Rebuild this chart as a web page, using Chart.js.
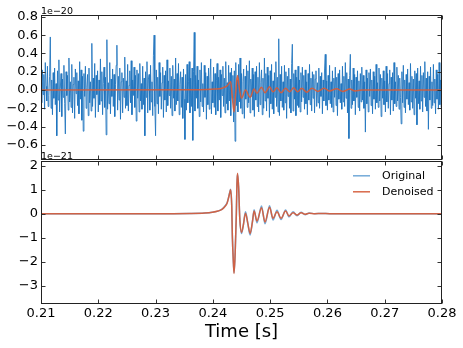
<!DOCTYPE html>
<html>
<head>
<meta charset="utf-8">
<script src="https://cdn.jsdelivr.net/npm/chart.js@4.4.0/dist/chart.umd.min.js"></script>
<style>
  html, body { margin: 0; padding: 0; background: #fff; }
  #wrap { position: relative; width: 463px; height: 348px; }
  #topBox { position: absolute; left: 0; top: 0; width: 463px; height: 170px; }
  #botBox { position: absolute; left: 0; top: 150px; width: 463px; height: 198px; }
</style>
</head>
<body>
<div id="wrap">
  <div id="topBox"><canvas id="topChart"></canvas></div>
  <div id="botBox"><canvas id="botChart"></canvas></div>
</div>
<script>
// x axis
const xTicks = [0.21, 0.22, 0.23, 0.24, 0.25, 0.26, 0.27, 0.28];
const xLabels = ['0.21', '0.22', '0.23', '0.24', '0.25', '0.26', '0.27', '0.28'];

// top panel, units of 1e-20
const topYTicks = [-0.6, -0.4, -0.2, 0.0, 0.2, 0.4, 0.6, 0.8];
const topYLabels = ['\u22120.6', '\u22120.4', '\u22120.2', '0.0', '0.2', '0.4', '0.6', '0.8'];

// bottom panel, units of 1e-21
const botYTicks = [-3, -2, -1, 0, 1, 2];
const botYLabels = ['\u22123', '\u22122', '\u22121', '0', '1', '2'];

// noisy strain (1e-22 units), one sample every 0.125 ms from 0.21 s
const noiseStart = 0.21;
const noiseStep = 0.000125;
const noise = [
  8, -14, 22, -5, 17, -21, 30, 4, -12, 26, -18, -6, 15, 58, -20, 11, -27, 19, -9, 24,
  -16, 7, -50, 21, -11, 33, -24, 2, 18, -29, 12, -8, 27, -15, -48, 20, -6, 16, -22, 35,
  -13, 9, -19, 28, -25, 6, 14, -31, 23, -4, 19, -17, 10, -26, 31, -10, 22, -33, 15, -45,
  18, -7, 26, -20, 3, 17, -28, 24, -14, 9, -23, 51, -18, 13, -9, 29, -30, 16, -5, 21,
  -24, 11, -16, 34, -12, 20, -27, 7, 25, -19, 14, -49, 55, -21, 8, -15, 30, -26, 12, -7,
  23, -18, 17, -29, 6, 27, 49, -22, 15, -11, 24, -32, 9, 19, -25, 13, -8, 36, -20, 10,
  -17, 28, -23, 5, 21, -14, 32, -27, 11, -6, 25, -19, 16, -34, 22, -9, 18, -24, 29, -12,
  7, -21, 26, -16, 13, -50, 20, -8, 31, -25, 12, 17, -22, 27, -13, 9, -28, 38, 60, -18,
  -50, 22, -15, 14, -26, 30, -7, 19, -21, 8, 25, -30, 16, -11, 21, -24, 33, -17, 10, -6,
  24, -20, 15, -28, 27, -9, 12, -23, 35, -16, 18, -12, 29, -27, 6, 20, -19, 14, -31, 23,
  -10, -54, 17, -22, 28, -14, 9, 31, -25, 13, -18, 24, -55, 20, 63, -23, 16, -9, 26, -20,
  11, -29, 22, -13, 30, -18, 7, -24, 27, -8, 19, -32, 15, -16, 24, -21, 12, 34, -26, 9,
  -14, 25, -19, 18, -27, 10, 29, -23, 14, -11, 22, -30, 17, -6, 26, -18, 13, -25, 31, -15,
  8, -22, 27, -12, 19, -28, 24, -9, 16, -35, 21, -56, 30, -17, 11, -24, 28, -13, 35, -20,
  18, -26, 9, 23, -31, 15, -10, 27, -19, 21, -14, 32, -25, 12, -7, 24, -22, 17, -29, 20,
  -11, 26, -18, 14, -24, 30, -16, 8, 22, -27, 13, -20, 35, -12, 18, -23, 25, -9, 16, -30,
  21, -15, 28, -21, 10, -26, 19, -8, 31, -18, 14, -24, 56, -28, 17, -12, 26, -19, 9, -22,
  27, -14, 20, -31, 15, -7, 24, -20, 12, -25, 29, 50, -23, 18, -10, 22, -28, 14, -17, 26,
  -19, 11, -24, 19, -13, 25, -8, 16, -21, 22, -15, 9, -27, 18, -11, 28, -16, 13, -23, 20,
  -9, 17, -25, 12, 21, -18, 8, -14, 24, -20, 15, -7, 19, -26, 11, -12, 23, 39, -17, 10,
  -22, 16, -11, 27, -15, 9, -19, 21, -24, 13, -8, 25, -17, 14, -28, 18, -10, 22, -14, 7,
  -21, 26, -13, 15, -18, 30, -9, 19, -25, 12, -53, 16, 39, -20, 11, -16, 24, -12, 17, -27,
  14, -8, 21, -19, 10, -23, 18, -13, 25, -11, 16, -20, 9, -46, 22, -15, 13, -24, 19, -7,
  23, -17, 11, -26, 20, -10, 15, -21, 28, -14, 8, -19, 24, -12, 17, -29, 13, -9, 21, -16,
  10, -24, 26, -13, 18, -20, 7, 22, -27, 14, -11, 19, -23, 30, -15, 9, -18, 25, -12, 16,
  -21, 13, -8, -37, 20, -14, 27, -19, 11, -25, 17, -10, 23, -16, 8, -22, 29, -13, 15, -20,
  12, -27, 21, -9, 18, -38, 24, -15, 10, -21, 26, -12, 16, -24, 19, -8, 31, -18, 13, -23,
  20, -43, 15, -11, 25, -20, 9, -17, 28, -14, 12, -26, 22, -10, 17, -21, 30, -16, 11, -19,
  8
];

// denoised trace in the top panel (1e-20)
const topDenT = [0.2100, 0.2377, 0.2404, 0.2416, 0.2425, 0.2431, 0.2434, 0.2437, 0.2440, 0.2443,
  0.2446, 0.2450, 0.2457, 0.2465, 0.2472, 0.2477, 0.2485, 0.2491, 0.2499, 0.2505,
  0.2512, 0.2519, 0.2527, 0.2534, 0.2541, 0.2548, 0.2555, 0.2564, 0.2573, 0.2583,
  0.2594, 0.2604, 0.2616, 0.2627, 0.2639, 0.2648, 0.2660, 0.2800];
const topDenV = [0, 0.002, 0.01, 0.02, 0.045, 0.09, -0.08, -0.24, -0.02, 0.16,
  0.03, -0.09, 0.0, -0.08, 0.01, -0.035, 0.03, -0.03, 0.035, -0.02,
  0.025, -0.03, 0.02, -0.02, 0.025, -0.02, 0.02, -0.025, 0.02, -0.015,
  0.02, -0.01, 0.015, -0.015, 0.01, -0.01, 0, 0];

// bottom panel (1e-21)
const chirpT = [0.2100, 0.2291, 0.2360, 0.2386, 0.2399, 0.2409, 0.2416, 0.2421, 0.2425, 0.2427,
  0.2429, 0.2431, 0.2433, 0.2434, 0.2436, 0.2437, 0.2439, 0.2441, 0.2442, 0.2443,
  0.2445, 0.2447, 0.2450, 0.2453, 0.2457, 0.2461, 0.2465, 0.2469, 0.2472, 0.2477,
  0.2485, 0.2491, 0.2499, 0.2505, 0.2512, 0.2519, 0.2527, 0.2533, 0.2540, 0.2547,
  0.2554, 0.2561, 0.2568, 0.2578, 0.2590, 0.2604, 0.2800];
const original = [0, 0, 0.01, 0.03, 0.06, 0.11, 0.19, 0.31, 0.47, 0.64,
  0.85, 1.02, 0.3, -0.9, -2.1, -2.45, -1.6, 0.0, 1.2, 1.65,
  1.1, -0.2, -0.82, -0.5, 0.08, -0.4, -0.88, -0.35, 0.17, -0.38,
  0.32, -0.42, 0.33, -0.26, 0.14, -0.24, 0.15, -0.13, 0.08, -0.08,
  0.06, -0.04, 0.03, 0, 0.01, 0, 0];
const denoised = [0, 0, 0.01, 0.03, 0.06, 0.11, 0.18, 0.30, 0.45, 0.62,
  0.82, 1.0, 0.3, -0.9, -2.1, -2.48, -1.6, 0.0, 1.2, 1.68,
  1.1, -0.2, -0.78, -0.5, 0.02, -0.4, -0.82, -0.35, 0.11, -0.30,
  0.25, -0.34, 0.27, -0.19, 0.08, -0.19, 0.11, -0.09, 0.04, -0.05,
  0.04, -0.02, 0.02, 0, 0.01, 0, 0];

const BLUE = 'rgba(30,115,190,0.86)';
const BLUE_SOFT = 'rgba(40,125,195,0.65)';
const ORANGE = 'rgba(214,92,58,0.92)';

Chart.defaults.font.family = "'DejaVu Sans', sans-serif";
Chart.defaults.color = '#000';

const pts = (xs, ys) => xs.map((x, i) => ({ x: x, y: ys[i] }));
const noisePts = noise.map((v, i) => ({ x: noiseStart + i * noiseStep, y: v / 100 }));

// box, inward ticks, offset text and legend, matplotlib-style
const framePlugin = {
  id: 'frame',
  afterDatasetsDraw(chart, args, opts) {
    const { ctx, chartArea: a, scales: { x, y } } = chart;
    const L = Math.round(a.left) + 0.5, R = Math.round(a.right) - 0.5;
    const T = Math.round(a.top) + 0.5, B = Math.round(a.bottom) + 0.5;
    ctx.save();
    ctx.strokeStyle = '#333';
    ctx.lineWidth = 1;
    ctx.beginPath();
    xTicks.forEach(v => {
      const px = Math.round(x.getPixelForValue(v)) + 0.5;
      ctx.moveTo(px, T); ctx.lineTo(px, T + 4);
      ctx.moveTo(px, B); ctx.lineTo(px, B - 4);
    });
    opts.yTicks.forEach(v => {
      const py = Math.round(y.getPixelForValue(v)) + 0.5;
      ctx.moveTo(L, py); ctx.lineTo(L + 4, py);
      ctx.moveTo(R, py); ctx.lineTo(R - 4, py);
    });
    ctx.stroke();
    ctx.strokeStyle = '#222';
    ctx.strokeRect(L, T, R - L, B - T);

    ctx.fillStyle = '#000';
    ctx.font = "9.5px 'DejaVu Sans'";
    ctx.textAlign = 'left';
    ctx.textBaseline = 'alphabetic';
    ctx.fillText(opts.offsetText, a.left, a.top - 1.5);

    if (opts.legend) {
      ctx.font = "11px 'DejaVu Sans'";
      ctx.textBaseline = 'middle';
      chart.data.datasets.forEach((ds, i) => {
        const yy = a.top + 15 + i * 16;
        ctx.strokeStyle = ds.borderColor;
        ctx.lineWidth = 1.5;
        ctx.beginPath();
        ctx.moveTo(a.right - 89, yy); ctx.lineTo(a.right - 72, yy);
        ctx.stroke();
        ctx.fillText(ds.label, a.right - 60, yy);
      });
    }
    ctx.restore();
  }
};

const yAxis = (min, max, ticks, labels) => ({
  min: min, max: max,
  afterFit: s => { s.width = 41; },
  afterBuildTicks: s => { s.ticks = ticks.map(v => ({ value: v })); },
  grid: { display: false, drawTicks: false },
  border: { display: false },
  ticks: {
    autoSkip: false, padding: 3, color: '#000',
    font: { size: 13 },
    callback: (v, i) => labels[i]
  }
});

new Chart('topChart', {
  type: 'line',
  data: {
    datasets: [
      { label: 'Original', data: noisePts, borderColor: BLUE, borderWidth: 1, pointRadius: 0, order: 1 },
      { label: 'Denoised', data: pts(topDenT, topDenV), borderColor: ORANGE, borderWidth: 1.5,
        pointRadius: 0, cubicInterpolationMode: 'monotone', order: 0 }
    ]
  },
  options: {
    responsive: true, maintainAspectRatio: false, animation: false, events: [],
    layout: { padding: { top: 15, right: 21, bottom: 11, left: 0 } },
    scales: {
      x: { type: 'linear', min: 0.21, max: 0.28, display: false },
      y: yAxis(-0.754, 0.82, topYTicks, topYLabels)
    },
    plugins: {
      legend: { display: false }, tooltip: { enabled: false },
      frame: { yTicks: topYTicks, offsetText: '1e\u221220', legend: false }
    }
  },
  plugins: [framePlugin]
});

new Chart('botChart', {
  type: 'line',
  data: {
    datasets: [
      { label: 'Original', data: pts(chirpT, original), borderColor: BLUE_SOFT, borderWidth: 1.5,
        pointRadius: 0, cubicInterpolationMode: 'monotone', order: 1 },
      { label: 'Denoised', data: pts(chirpT, denoised), borderColor: ORANGE, borderWidth: 1.5,
        pointRadius: 0, cubicInterpolationMode: 'monotone', order: 0 }
    ]
  },
  options: {
    responsive: true, maintainAspectRatio: false, animation: false, events: [],
    layout: { padding: { top: 9, right: 21, bottom: 0, left: 0 } },
    scales: {
      x: {
        type: 'linear', min: 0.21, max: 0.28,
        afterFit: s => { s.height = 45; },
        afterBuildTicks: s => { s.ticks = xTicks.map(v => ({ value: v })); },
        grid: { display: false, drawTicks: false },
        border: { display: false },
        ticks: { autoSkip: false, maxRotation: 0, padding: 3, color: '#000',
          font: { size: 13 }, callback: (v, i) => xLabels[i] },
        title: { display: true, text: 'Time [s]', color: '#000',
          font: { size: 18 }, padding: { top: 0, bottom: 5 } }
      },
      y: yAxis(-3.71, 2.2, botYTicks, botYLabels)
    },
    plugins: {
      legend: { display: false }, tooltip: { enabled: false },
      frame: { yTicks: botYTicks, offsetText: '1e\u221221', legend: true }
    }
  },
  plugins: [framePlugin]
});
</script>
</body>
</html>
